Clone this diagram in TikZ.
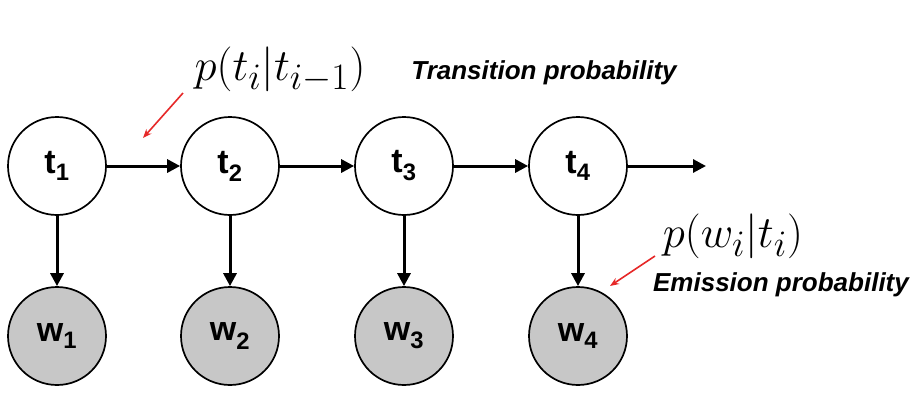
\documentclass[tikz,border=0pt]{standalone}
\usepackage{fontspec}
\usepackage{graphicx}
\setmainfont{Liberation Sans}
\usetikzlibrary{arrows.meta}
\begin{document}
\begin{tikzpicture}[x=1pt,y=-1pt,
  st/.style={circle,draw,line width=1.7pt,minimum size=98pt,inner sep=0pt,font=\fontsize{34}{34}\selectfont\bfseries},
  hid/.style={st,fill=white},
  obs/.style={st,fill=black!22},
  arr/.style={line width=3pt,-{Triangle[length=13pt,width=13pt]}},
  red/.style={draw={rgb,255:red,230;green,40;blue,40},line width=1.6pt,-{Stealth[length=9pt,width=7pt]}},
  lbl/.style={font=\fontsize{26}{26}\selectfont\bfseries\itshape},
  mth/.style={font=\fontsize{30}{30}\selectfont}]
\useasboundingbox (0,0) rectangle (916,400);
\foreach \i/\x in {1/57,2/230,3/404,4/578}{
  \node[hid] (t\i) at (\x,166) {t\textsubscript{\i}};
  \node[obs] (w\i) at (\x,336) {w\textsubscript{\i}};
  \draw[arr] (t\i) -- (w\i);
}
\draw[arr] (t1) -- (t2);
\draw[arr] (t2) -- (t3);
\draw[arr] (t3) -- (t4);
\coordinate (end) at (706,166);
\draw[arr] (t4) -- (end);
\node[mth] (pt) at (280,70) {\scalebox{1.8}{$p(t_i|t_{i-1})$}};
\node[lbl] (tp) at (544,73) {Transition probability};
\node[mth] (pw) at (733,236) {\scalebox{1.8}{$p(w_i|t_i)$}};
\node[lbl] (ep) at (781,285) {Emission probability};
\coordinate (r1a) at (183,93); \coordinate (r1b) at (143,138);
\coordinate (r2a) at (655,256); \coordinate (r2b) at (610,286);
\draw[red] (r1a) -- (r1b);
\draw[red] (r2a) -- (r2b);
\end{tikzpicture}
\end{document}
